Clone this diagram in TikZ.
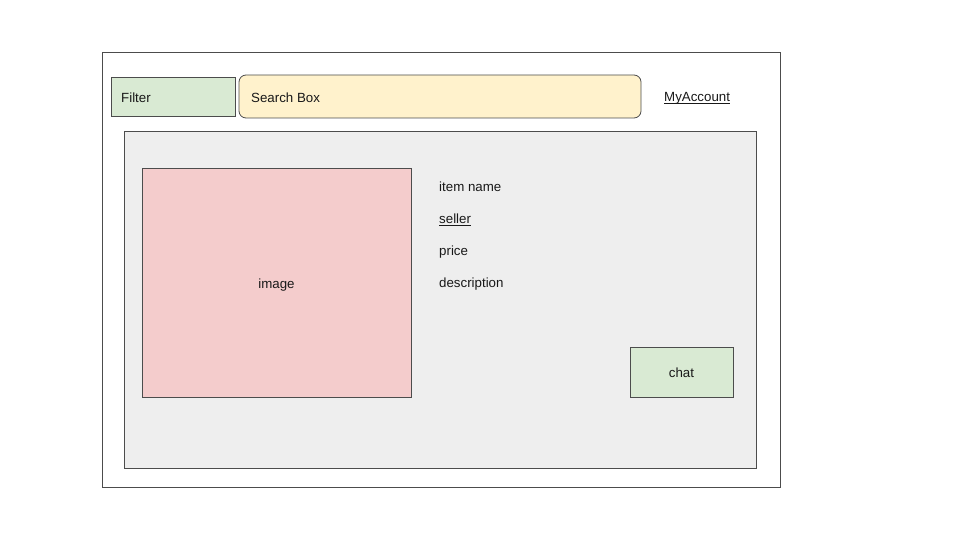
\documentclass[tikz,border=0pt]{standalone}
\usepackage{fontspec}
\setmainfont{Liberation Sans}
\begin{document}
\begin{tikzpicture}[x=1pt,y=-1pt,
  box/.style={draw=black!70, line width=0.8pt},
  lbl/.style={font=\fontsize{13.3}{16}\selectfont, inner sep=0pt, text=black!90},
  uline/.style={draw=black!90, line width=0.9pt}]
\definecolor{greenf}{HTML}{D9EAD3}
\definecolor{yellowf}{HTML}{FFF2CC}
\definecolor{redf}{HTML}{F4CCCC}
\definecolor{grayf}{HTML}{EEEEEE}
\useasboundingbox (0,0) rectangle (960,540);
% frame
\draw[box] (102,52) rectangle (780,487);
% filter
\draw[box, fill=greenf] (111,77) rectangle (235,116);
\node[lbl, anchor=base west] (filter) at (121,102.5) {Filter};
% search
\draw[box, fill=yellowf, rounded corners=7pt] (239,75) rectangle (641,118);
\node[lbl, anchor=base west] (search) at (251,102.5) {Search Box};
% account
\node[lbl, anchor=base west] (account) at (664,101.5) {MyAccount};
\draw[uline] ([yshift=-1.5pt]account.base west) -- ([yshift=-1.5pt]account.base east);
% panel
\draw[box, fill=grayf] (124,131) rectangle (756,468);
% image
\draw[box, fill=redf] (142,168) rectangle (411,397);
\node[lbl, anchor=base] (image) at (276.5,288.5) {image};
% details
\node[lbl, anchor=base west] (name) at (439,191.5) {item name};
\node[lbl, anchor=base west] (seller) at (439,223.5) {seller};
\draw[uline] ([yshift=-1.5pt]seller.base west) -- ([yshift=-1.5pt]seller.base east);
\node[lbl, anchor=base west] (price) at (439,255.5) {price};
\node[lbl, anchor=base west] (desc) at (439,287.5) {description};
% chat
\draw[box, fill=greenf] (630,347) rectangle (733,397);
\node[lbl, anchor=base] (chat) at (681.5,377.5) {chat};
\end{tikzpicture}
\end{document}
